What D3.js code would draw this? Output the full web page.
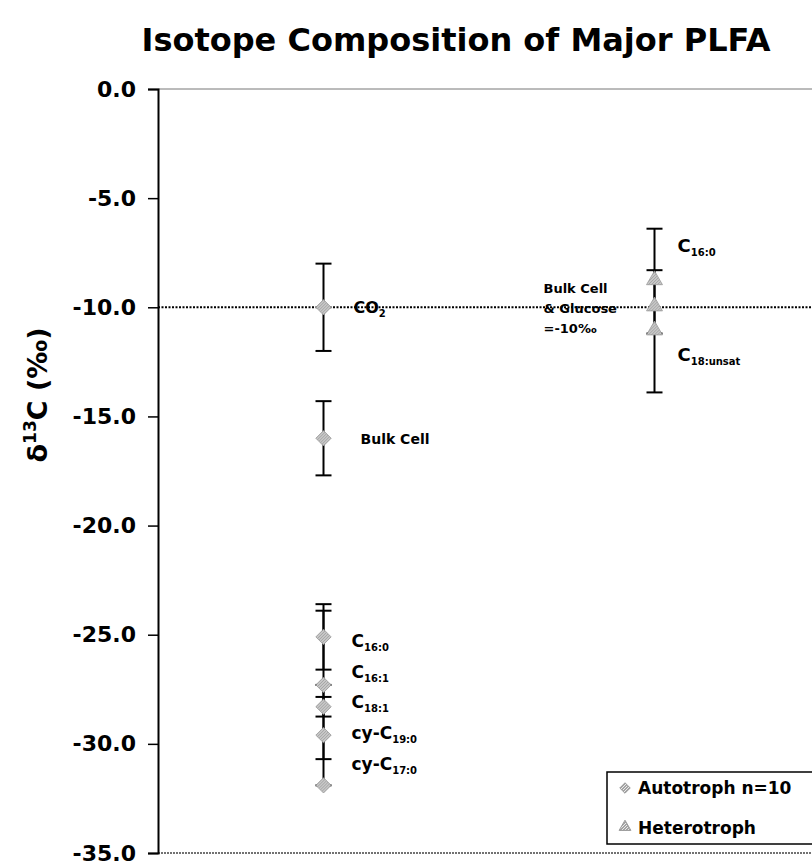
<!DOCTYPE html>
<html>
<head>
<meta charset="utf-8">
<script src="https://cdn.jsdelivr.net/npm/d3@7"></script>
<style>
  body { margin: 0; background: #fff; }
  text { font-family: "DejaVu Sans", Verdana, sans-serif; }
</style>
</head>
<body>
<div id="chartplace"></div>
<script>
// groups on the x axis
var groups = ["Autotroph", "Heterotroph"];
var yTicks = [0, -5, -10, -15, -20, -25, -30, -35];

// autotroph (n=10): mean and error
var autoNames = ["CO2", "Bulk Cell", "C16:0", "C16:1", "C18:1", "cy-C19:0", "cy-C17:0"];
var autoValues = [-10.0, -16.0, -25.1, -27.3, -28.3, -29.6, -31.9];
var autoErrors = [2.0, 1.7, 1.5, 3.4, 0.45, 2.3, 0];

// heterotroph: mean and error
var heteroNames = ["C16:0", "Bulk Cell & Glucose", "C18:unsat"];
var heteroValues = [-8.8, -10.0, -11.1];
var heteroErrors = [2.4, 0, 2.8];

// reference line: bulk cell & glucose = -10 permil
var refValue = -10;

var width = 812, height = 865;
var margin = {left: 158, top: 89, bottom: 12};
var plotRight = 820;

var svg = d3.select("#chartplace").append("svg")
  .attr("width", width).attr("height", height);

// hatched grey fill for the markers
var defs = svg.append("defs");
var pat = defs.append("pattern").attr("id", "hatch")
  .attr("patternUnits", "userSpaceOnUse").attr("width", 3).attr("height", 3);
pat.append("rect").attr("width", 3).attr("height", 3).attr("fill", "#a4a4a4");
pat.append("path").attr("d", "M0,3 L3,0").attr("stroke", "#ececec").attr("stroke-width", 1);

var x = d3.scaleBand().domain(groups).range([margin.left, plotRight]);
var y = d3.scaleLinear().domain([0, -35]).range([margin.top, height - margin.bottom]);

// title
svg.append("text")
  .attr("x", 456).attr("y", 51)
  .attr("text-anchor", "middle")
  .attr("font-size", 32).attr("font-weight", "bold")
  .text("Isotope Composition of Major PLFA");

// y axis title
var yt = svg.append("text")
  .attr("transform", "translate(47," + 395 + ") rotate(-90)")
  .attr("text-anchor", "middle")
  .attr("font-size", 27).attr("font-weight", "bold");
yt.append("tspan").text("δ");
yt.append("tspan").attr("font-size", 17).attr("dy", -11).text("13");
yt.append("tspan").attr("dy", 11).text("C (‰)");

// top border and bottom axis (dotted)
svg.append("line")
  .attr("x1", margin.left).attr("x2", plotRight)
  .attr("y1", y(0)).attr("y2", y(0))
  .attr("stroke", "#777").attr("stroke-width", 1);
svg.append("line")
  .attr("x1", margin.left).attr("x2", plotRight)
  .attr("y1", y(-35)).attr("y2", y(-35))
  .attr("stroke", "#444").attr("stroke-width", 1.5).attr("stroke-dasharray", "2,1");

// reference line at -10
svg.append("line")
  .attr("x1", margin.left).attr("x2", plotRight)
  .attr("y1", y(refValue)).attr("y2", y(refValue))
  .attr("stroke", "#000").attr("stroke-width", 2).attr("stroke-dasharray", "2,1.5");

// y axis
var yAxis = d3.axisLeft(y).tickValues(yTicks)
  .tickFormat(d3.format(".1f")).tickSize(10).tickPadding(12);
var ga = svg.append("g").attr("transform", "translate(" + margin.left + ",0)").call(yAxis);
ga.select(".domain").attr("stroke", "#000").attr("stroke-width", 2);
ga.selectAll(".tick line").attr("stroke", "#000").attr("stroke-width", 1.5);
ga.selectAll(".tick text")
  .attr("font-family", "DejaVu Sans, Verdana, sans-serif")
  .attr("font-size", 22).attr("font-weight", "bold").attr("fill", "#000")
  .text(function(d){ return d3.format(".1f")(d).replace("−", "-"); });

// error bars
function errorBars(group, values, errors){
  var cx = x(group) + x.bandwidth() / 2;
  var rows = values.map(function(v, i){ return {v: v, e: errors[i]}; })
    .filter(function(d){ return d.e > 0; });
  var g = svg.append("g");
  g.selectAll(".stem").data(rows).enter().append("line")
    .attr("x1", cx).attr("x2", cx)
    .attr("y1", function(d){ return y(d.v + d.e); })
    .attr("y2", function(d){ return y(d.v - d.e); })
    .attr("stroke", "#000").attr("stroke-width", 2);
  [1, -1].forEach(function(s){
    g.selectAll(".cap" + s).data(rows).enter().append("line")
      .attr("x1", cx - 8).attr("x2", cx + 8)
      .attr("y1", function(d){ return y(d.v + s * d.e); })
      .attr("y2", function(d){ return y(d.v + s * d.e); })
      .attr("stroke", "#000").attr("stroke-width", 2);
  });
}
errorBars("Autotroph", autoValues, autoErrors);
errorBars("Heterotroph", heteroValues, heteroErrors);

var diamond = d3.symbol().type(d3.symbolDiamond2).size(150);
var triangle = d3.symbol().type(d3.symbolTriangle).size(110);

svg.append("g").selectAll("path").data(autoValues).enter().append("path")
  .attr("d", diamond)
  .attr("transform", function(d){ return "translate(" + (x("Autotroph") + x.bandwidth() / 2) + "," + y(d) + ")"; })
  .attr("fill", "url(#hatch)").attr("stroke", "#999").attr("stroke-width", 0.8);

svg.append("g").selectAll("path").data(heteroValues).enter().append("path")
  .attr("d", triangle)
  .attr("transform", function(d){ return "translate(" + (x("Heterotroph") + x.bandwidth() / 2) + "," + (y(d) - 1) + ")"; })
  .attr("fill", "url(#hatch)").attr("stroke", "#999").attr("stroke-width", 0.8);

// annotations: [text, subscript, group, value to sit at, dx, size]
var notes = [
  ["CO", "2", "Autotroph", -10.0, 30, 16],
  ["Bulk Cell", "", "Autotroph", -16.0, 37, 14],
  ["C", "16:0", "Autotroph", -25.3, 28, 17],
  ["C", "16:1", "Autotroph", -26.7, 28, 17],
  ["C", "18:1", "Autotroph", -28.1, 28, 17],
  ["cy-C", "19:0", "Autotroph", -29.5, 28, 17],
  ["cy-C", "17:0", "Autotroph", -30.9, 28, 17],
  ["C", "16:0", "Heterotroph", -7.2, 23, 18],
  ["C", "18:unsat", "Heterotroph", -12.2, 23, 18]
];
notes.forEach(function(n){
  var t = svg.append("text")
    .attr("x", x(n[2]) + x.bandwidth() / 2 + n[4])
    .attr("y", y(n[3]) + 6)
    .attr("font-size", n[5]).attr("font-weight", "bold");
  t.append("tspan").text(n[0]);
  if(n[1]) t.append("tspan").attr("font-size", 10).attr("dy", 4).text(n[1]);
});

var bulkLines = ["Bulk Cell", "& Glucose", "=-10‰"];
svg.append("g").selectAll("text").data(bulkLines).enter().append("text")
  .attr("x", x("Heterotroph") + x.bandwidth() / 2 - 111)
  .attr("y", function(d, i){ return y(refValue) - 14 + i * 20; })
  .attr("font-size", 13).attr("font-weight", "bold")
  .text(function(d){ return d; });

// legend
var lg = svg.append("g").attr("transform", "translate(607,772)");
lg.append("rect").attr("width", 230).attr("height", 72)
  .attr("fill", "#fff").attr("stroke", "#000").attr("stroke-width", 1.5);
lg.append("path").attr("d", d3.symbol().type(d3.symbolDiamond2).size(70))
  .attr("transform", "translate(18,16)").attr("fill", "url(#hatch)").attr("stroke", "#999");
lg.append("path").attr("d", d3.symbol().type(d3.symbolTriangle).size(60))
  .attr("transform", "translate(18,55)").attr("fill", "url(#hatch)").attr("stroke", "#999");
lg.append("text").attr("x", 31).attr("y", 22).attr("font-size", 17).attr("font-weight", "bold").text("Autotroph n=10");
lg.append("text").attr("x", 31).attr("y", 62).attr("font-size", 17).attr("font-weight", "bold").text("Heterotroph");
</script>
</body>
</html>
